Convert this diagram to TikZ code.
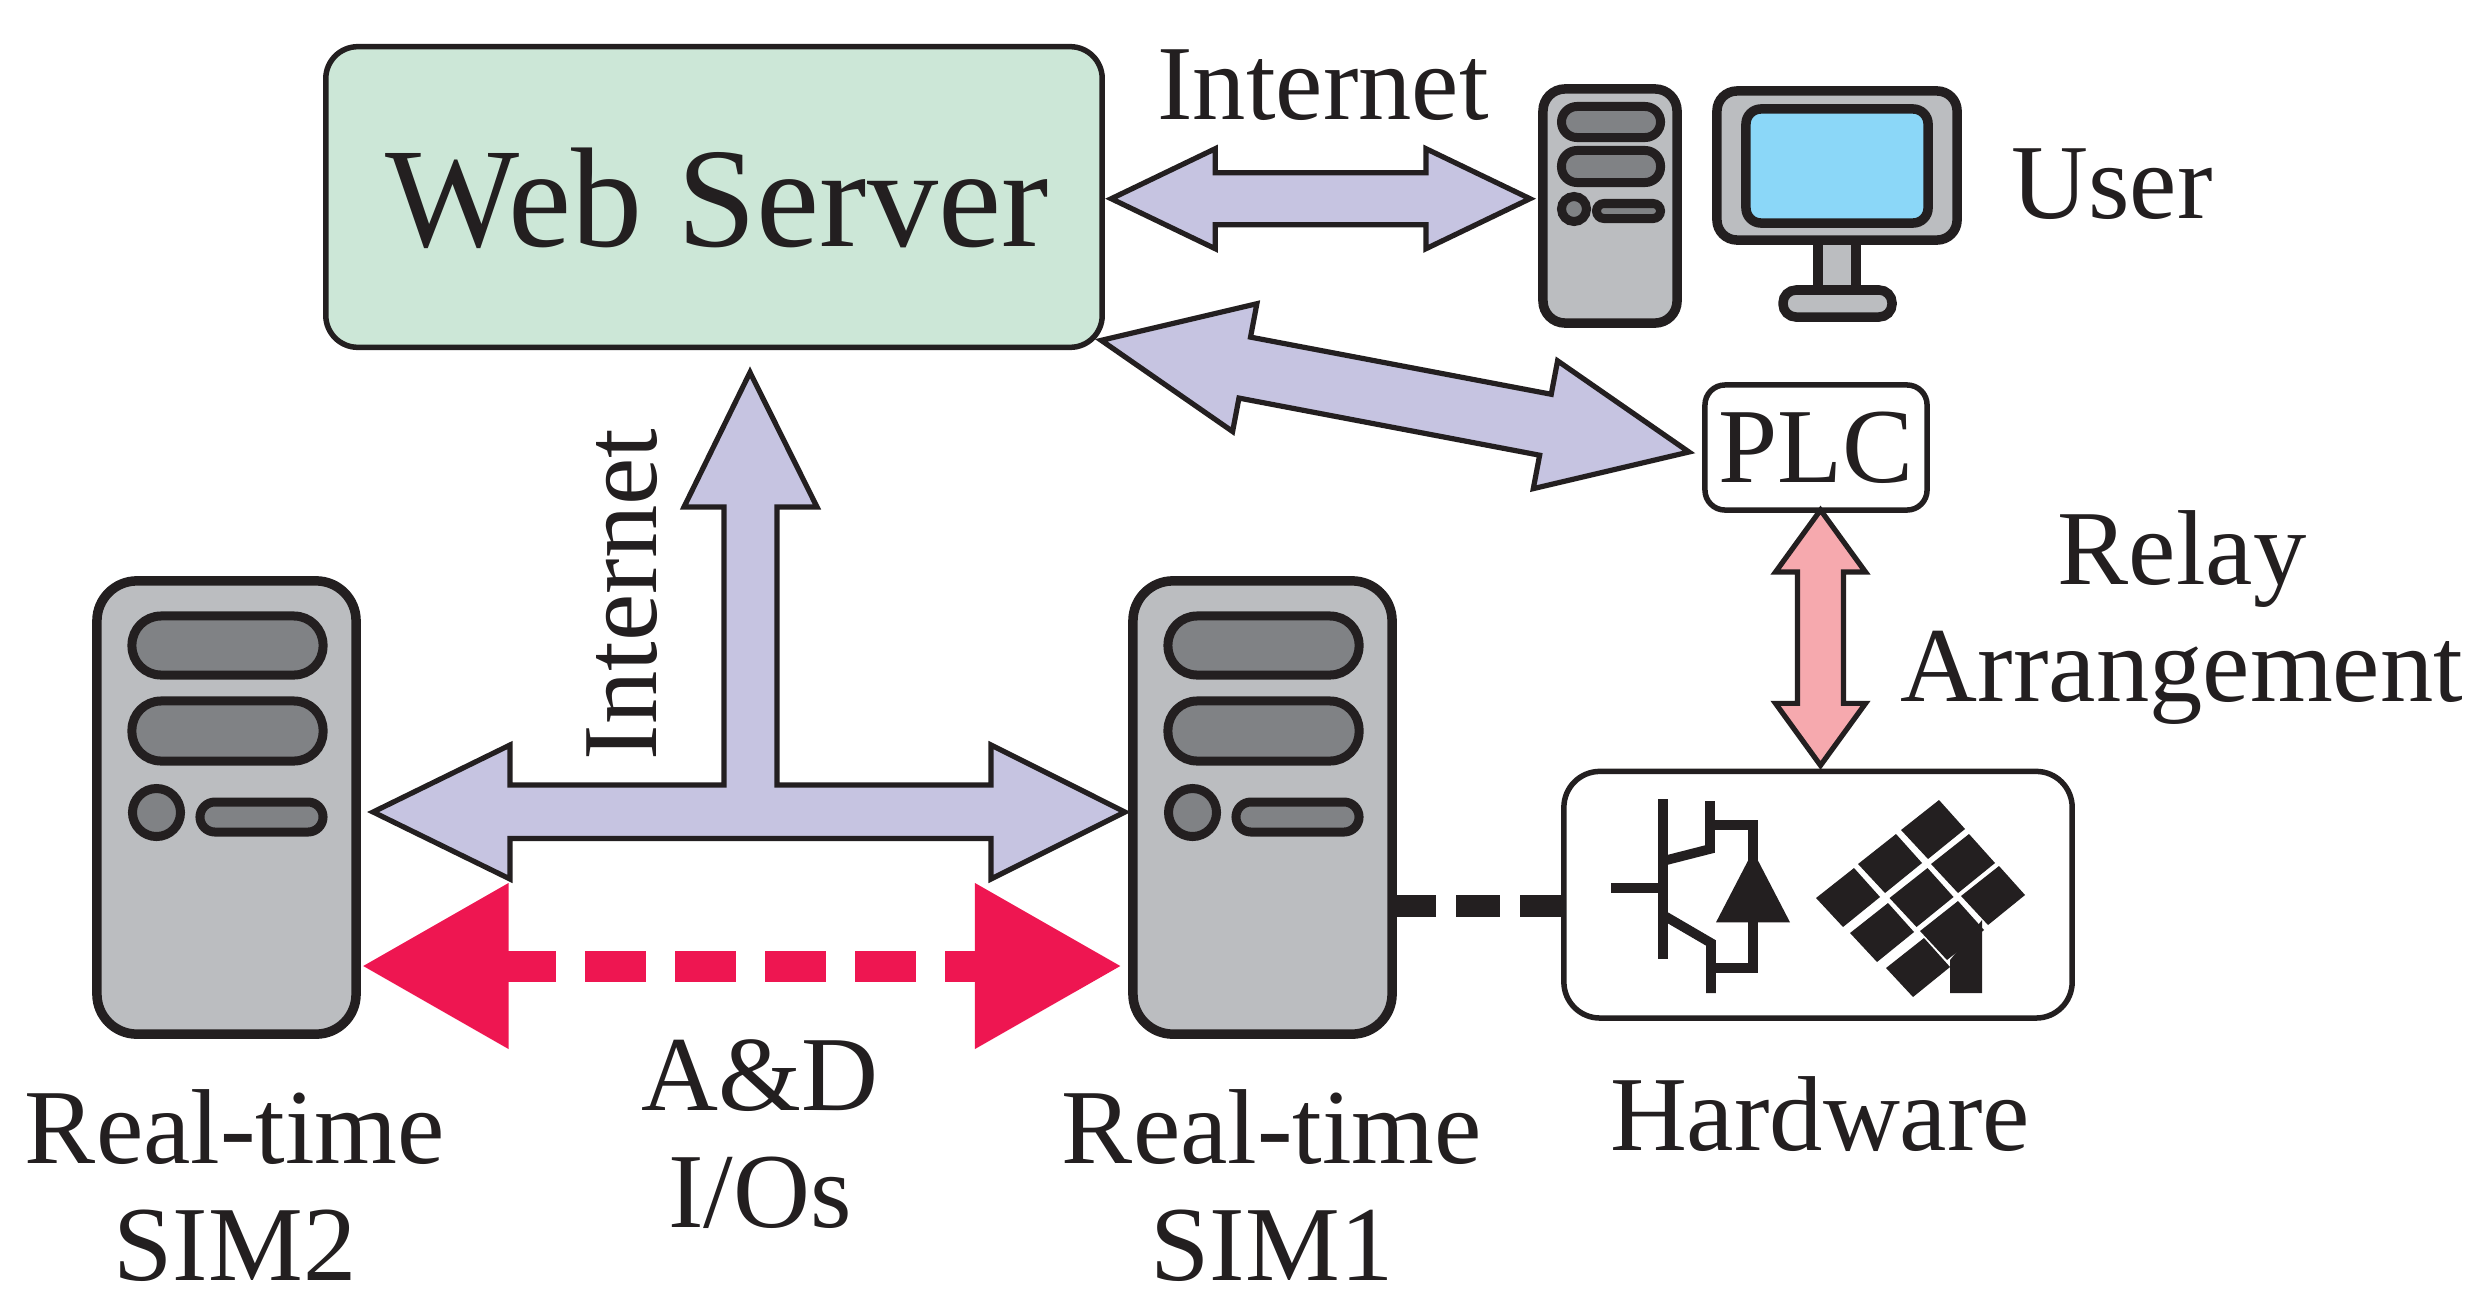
\documentclass[tikz,border=0pt]{standalone}
\usepackage{fontspec}
\setmainfont{Liberation Serif}
\usetikzlibrary{calc,arrows.meta}

\definecolor{ink}{HTML}{231F20}
\definecolor{mint}{HTML}{CCE7D7}
\definecolor{lavender}{HTML}{C6C4E1}
\definecolor{blush}{HTML}{F6A9AE}
\definecolor{crimson}{HTML}{EE1651}
\definecolor{casegrey}{HTML}{BBBDC0}
\definecolor{slotgrey}{HTML}{808285}
\definecolor{screenblue}{HTML}{8BD7F8}

\newcommand{\blockarrow}[6]{
    \coordinate (ba) at ($(#2)!#6!(#3)$);
    \coordinate (bb) at ($(#3)!#6!(#2)$);
    \draw[blockline,fill=#1] (#2) -- ($(ba)!#5!90:(#3)$) -- ($(ba)!#4!90:(#3)$)
    -- ($(bb)!#4!-90:(#2)$) -- ($(bb)!#5!-90:(#2)$) -- (#3)
    -- ($(bb)!#5!90:(#2)$) -- ($(bb)!#4!90:(#2)$)
    -- ($(ba)!#4!-90:(#3)$) -- ($(ba)!#5!-90:(#3)$) -- cycle;
}

\begin{document}
\begin{tikzpicture}[x=0.01cm,y=-0.01cm,
    caption/.style={font=\fontsize{30.3}{33}\selectfont,text=ink,inner sep=0pt,outer sep=0pt,anchor=base,align=center},
    blockline/.style={draw=ink,line width=0.052cm,miter limit=10},
    box/.style={draw=ink,line width=0.055cm,outer sep=0pt,inner sep=0pt},
    casing/.style={draw=ink,fill=casegrey,line width=0.095cm,outer sep=0pt,inner sep=0pt},
    slot/.style={draw=ink,fill=slotgrey,line width=0.09cm,outer sep=0pt,inner sep=0pt},
    plugline/.style={draw=ink,line width=0.22cm,dash pattern=on 0.44cm off 0.20cm},
    iolink/.style={draw=crimson,line width=0.31cm,dash pattern=on 0.61cm off 0.29cm,dash phase=0.06cm},
    igbtline/.style={draw=ink,line width=0.096cm}]
    \useasboundingbox (0,0) rectangle (2489,1315);

    \node (web) [box,fill=mint,minimum width=7.76cm,minimum height=3.005cm,rounded corners=0.32cm] at (714,197) {};
    \node (webtext) [caption,font=\fontsize{40.4}{45}\selectfont] at (717,246.7) {Web Server};

    \foreach \tw/\tx in {sim2/226.5,sim1/1262.5} {
        \node (\tw) [casing,minimum width=2.59cm,minimum height=4.53cm,rounded corners=0.4cm] at (\tx,807.5) {};
        \node (\tw-a) [slot,minimum width=1.91cm,minimum height=0.59cm,rounded corners=0.29cm] at ($(\tw)+(1,-162)$) {};
        \node (\tw-b) [slot,minimum width=1.91cm,minimum height=0.60cm,rounded corners=0.29cm] at ($(\tw)+(1,-76.5)$) {};
        \node (\tw-c) [slot,circle,minimum size=0.48cm] at ($(\tw)+(-70,5)$) {};
        \node (\tw-d) [slot,minimum width=1.23cm,minimum height=0.30cm,rounded corners=0.15cm] at ($(\tw)+(35,9.5)$) {};
    }

    \node (tower) [casing,minimum width=1.34cm,minimum height=2.34cm,rounded corners=0.22cm] at (1610,206) {};
    \node (tower-a) [slot,minimum width=0.99cm,minimum height=0.31cm,rounded corners=0.155cm] at (1611,122) {};
    \node (tower-b) [slot,minimum width=0.99cm,minimum height=0.32cm,rounded corners=0.155cm] at (1611,166.5) {};
    \node (tower-c) [slot,circle,minimum size=0.25cm] at (1574,209) {};
    \node (tower-d) [slot,minimum width=0.64cm,minimum height=0.15cm,rounded corners=0.075cm] at (1628.5,211) {};

    \node (stand) [casing,minimum width=0.38cm,minimum height=0.50cm] at (1837,265) {};
    \node (foot) [casing,minimum width=1.09cm,minimum height=0.27cm,rounded corners=0.13cm] at (1837.5,303.5) {};
    \node (monitor) [casing,minimum width=2.40cm,minimum height=1.49cm,rounded corners=0.20cm] at (1837,165.5) {};
    \node (screen) [casing,fill=screenblue,minimum width=1.82cm,minimum height=1.14cm,rounded corners=0.15cm] at (1837,166) {};

    \node (plc) [box,fill=white,minimum width=2.22cm,minimum height=1.25cm,rounded corners=0.20cm] at (1816,447.5) {};
    \node (plctext) [caption] at (1816,482.7) {PLC};
    \node (hardware) [box,fill=white,minimum width=5.08cm,minimum height=2.465cm,rounded corners=0.36cm] at (1818,894.7) {};

    \coordinate (webr) at ($(web.east)+(9,1.7)$);
    \coordinate (towerl) at ($(tower.west)+(-13,-7.3)$);
    \blockarrow{lavender}{webr}{towerl}{0.26cm}{0.50cm}{1.04cm}

    \coordinate (webc) at ($(web.south east)+(-1,-7)$);
    \coordinate (plcl) at ($(plc.west)+(-16,4.5)$);
    \blockarrow{lavender}{webc}{plcl}{0.31cm}{0.65cm}{1.46cm}

    \coordinate (plcb) at ($(plc.south)+(4.5,0)$);
    \coordinate (hwt) at ($(hardware.north)+(2.5,-6)$);
    \blockarrow{blush}{plcb}{hwt}{0.23cm}{0.45cm}{0.62cm}

    \coordinate (tleft) at ($(sim2.east)+(17,4.5)$);
    \coordinate (tright) at ($(sim1.west)+(-8,4.5)$);
    \coordinate (ttop) at ($(web.south)+(36,25)$);
    \draw[blockline,fill=lavender] (tleft) -- (510,745) -- (510,785) -- (724,785) -- (724,507) -- (684,507)
    -- (ttop) -- (817,507) -- (777,507) -- (777,785) -- (991,785) -- (991,745) -- (tright)
    -- (991,879) -- (991,838.5) -- (510,838.5) -- (510,879) -- cycle;

    \coordinate (iol) at ($(sim2.east)+(5.5,158.5)$);
    \coordinate (ior) at ($(sim1.west)+(-11,158.5)$);
    \draw[iolink,{Triangle[length=1.47cm,width=1.57cm]}-{Triangle[length=1.47cm,width=1.57cm]}]
    (iol) -- (ior);

    \coordinate (plugl) at ($(sim1.east)+(0,98.5)$);
    \coordinate (plugr) at (hardware.west |- plugl);
    \path[plugline] (plugl) edge (plugr);

    \draw[igbtline] (1611,888) -- (1662.7,888);
    \draw[igbtline] (1662.7,799) -- (1662.7,959);
    \draw[igbtline] (1710,801) -- (1710,849) -- (1663,861);
    \draw[igbtline] (1710,825) -- (1753,825) -- (1753,860);
    \draw[igbtline] (1663,915) -- (1711,943) -- (1711,993);
    \draw[igbtline] (1711,968) -- (1753,968) -- (1753,920);
    \fill[ink] (1753,851) -- (1790,922.3) -- (1716,922.3) -- cycle;

    \foreach \cx/\cy in {1939/800,1896/834,1969/834,1854/868,1927.5/868,1999/866,1888/903,1958/901,1924/938}
        \fill[ink] (\cx,\cy) -- ++(26,29) -- ++(-37,30) -- ++(-27,-29) -- cycle;
    \fill[ink] (1950,960) -- (1950,993) -- (1982,993) -- (1982,920) -- cycle;

    \node (nettop) [caption] at (1323,119) {Internet};
    \node (netside) [caption,rotate=90] at (656,594.5) {Internet};
    \node (usertext) [caption] at (2112,218) {User};
    \node (relay) [caption] at (2182,701) {Relay\\Arrangement};
    \node (simtwo) [caption] at (235,1280) {Real-time\\SIM2};
    \node (simone) [caption] at (1272,1280) {Real-time\\SIM1};
    \node (ios) [caption] at (760,1227) {A\&D\\I/Os};
    \node (hwtext) [caption] at (1820,1150) {Hardware};
\end{tikzpicture}
\end{document}
